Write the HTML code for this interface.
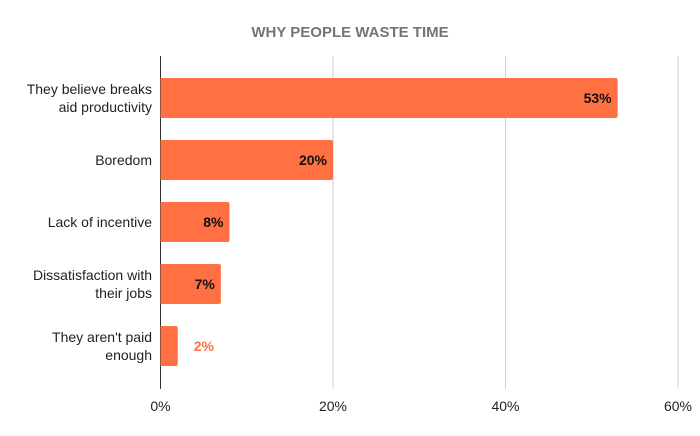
<!DOCTYPE html>
<html><head><meta charset="utf-8"><style>
body{margin:0;background:#fff;}
svg{display:block;font-family:"Liberation Sans",sans-serif;}
</style></head><body>
<svg id="c" width="700" height="436">
<text x="350" y="37" text-anchor="middle" font-size="15" font-weight="bold" fill="#757575">WHY PEOPLE WASTE TIME</text>
<g id="grid"></g><g id="bars"></g><g id="labels"></g>
</svg>
<script>
const categories=[["They believe breaks","aid productivity"],["Boredom"],["Lack of incentive"],["Dissatisfaction with","their jobs"],["They aren't paid","enough"]];
const values=[53,20,8,7,2];
const ticks=[0,20,40,60];
const NS="http://www.w3.org/2000/svg";
const x0=160.5,x1=678,xmax=60;
const xs=v=>x0+(x1-x0)*v/xmax;
const rowY=i=>78+i*62;
const bh=40;
function mk(t,a,p){const e=document.createElementNS(NS,t);for(const k in a)e.setAttribute(k,a[k]);p.appendChild(e);return e;}
const grid=document.getElementById('grid'),bars=document.getElementById('bars'),labels=document.getElementById('labels');
ticks.forEach(t=>{
  const x=xs(t);
  if(t>0){const l=mk('line',{x1:x,x2:x,y1:56,y2:389,stroke:'#d0d0d0','stroke-width':1},grid);
  
  }
  const tx=mk('text',{x:x,y:411,'text-anchor':'middle','font-size':14,fill:'#222'},grid);
  tx.textContent=t+'%';
  
  
});
values.forEach((v,i)=>{
  const y=rowY(i),w=xs(v)-x0;
  const r=mk('path',{d:`M${x0},${y}h${w-2}a2,2 0 0 1 2,2v${bh-4}a2,2 0 0 1 -2,2h${-(w-2)}z`,fill:'#ff7043'},bars);
  
  
  const inside=w>40;
  const t=mk('text',{x:inside?xs(v)-6:xs(v)+16,y:y+bh/2+5,'text-anchor':inside?'end':'start','font-size':14,'font-weight':'bold',fill:inside?'#111':'#ff7043'},bars);
  t.textContent=v+'%';
  
  
  const lines=categories[i];
  lines.forEach((s,j)=>{
    const ly=y+bh/2+5+(j-(lines.length-1)/2)*18;
    const c=mk('text',{x:152,y:ly,'text-anchor':'end','font-size':14,fill:'#222'},labels);
    c.textContent=s;
    
    
  });
});
const ax=mk('line',{x1:x0,x2:x0,y1:56,y2:389,stroke:'#333','stroke-width':1},grid);


</script>
</body></html>
